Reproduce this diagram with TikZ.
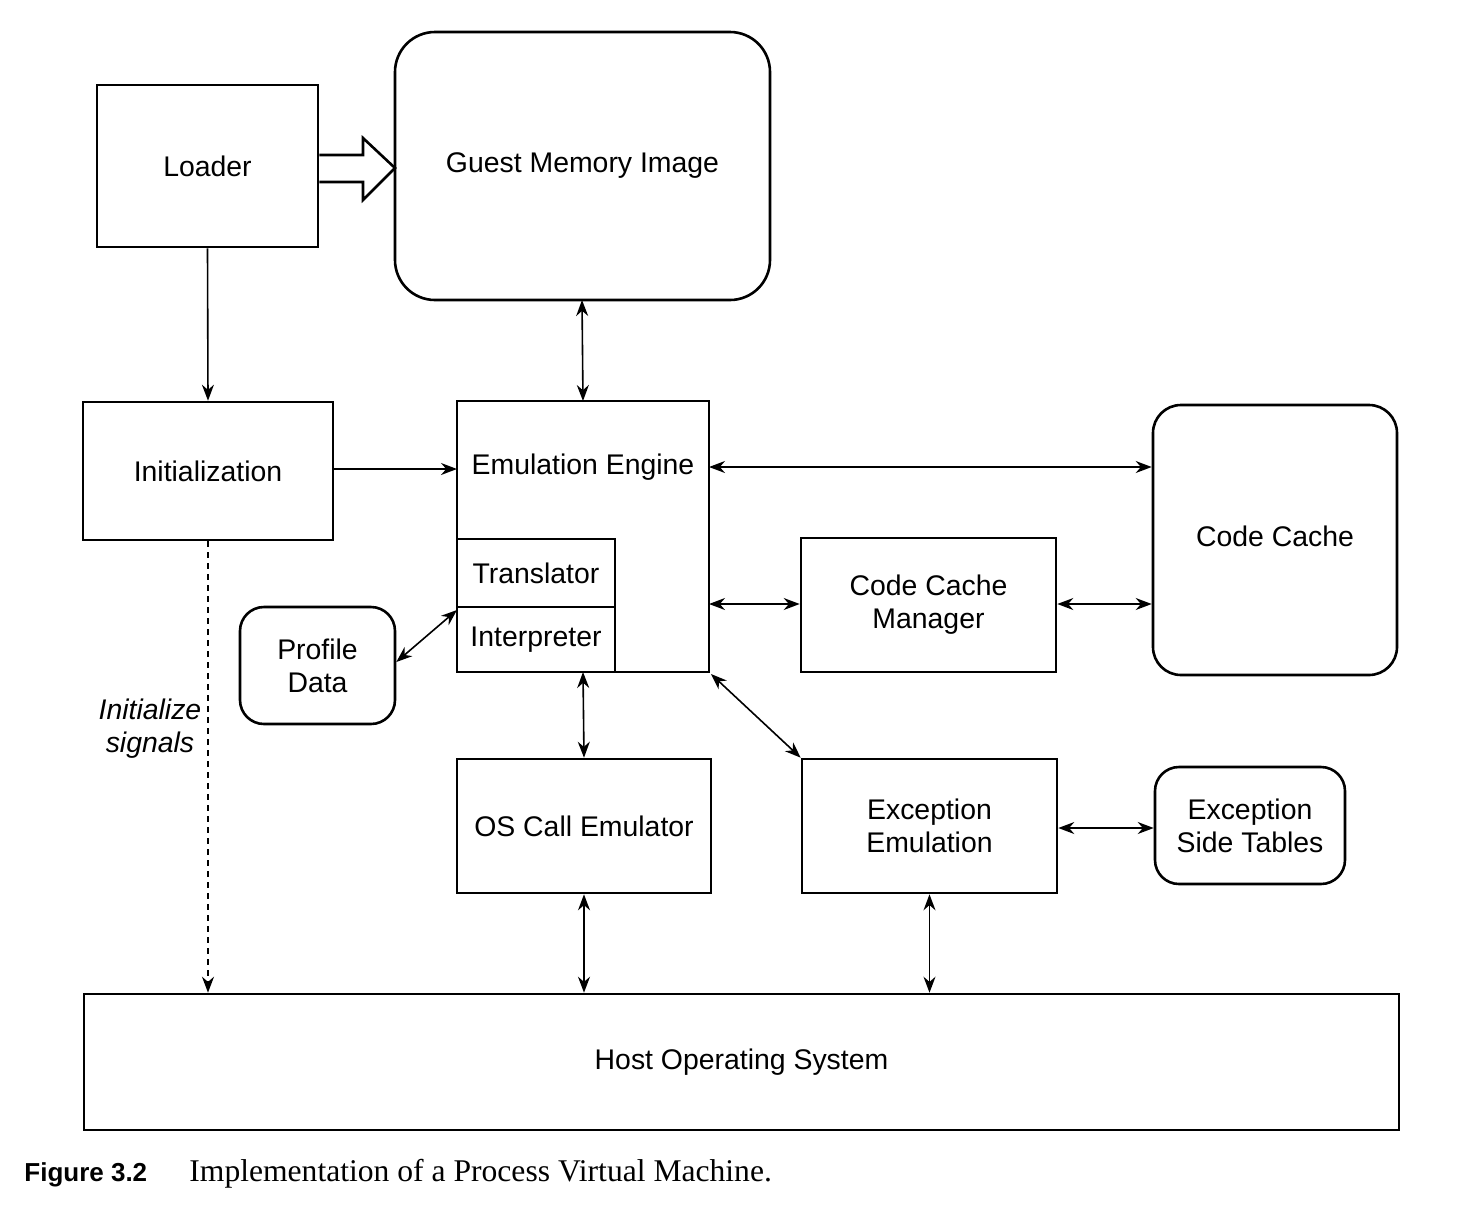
\documentclass[tikz,border=0pt]{standalone}
\usepackage{fontspec}
\setmainfont{Liberation Sans}
\newfontfamily\capserif{Liberation Serif}
\usetikzlibrary{arrows.meta}
\begin{document}
\begin{tikzpicture}[x=0.5pt,y=-0.5pt,
  lbl/.style={font=\fontsize{14.2}{16.5}\selectfont},
  box/.style={draw,line width=1.3pt,inner sep=0pt,lbl,align=center},
  rbox/.style={box,rounded corners=14pt},
  conn/.style={line width=0.8pt,{Stealth[length=8pt,width=6pt]}-{Stealth[length=8pt,width=6pt]}},
  oneway/.style={line width=0.8pt,-{Stealth[length=8pt,width=6pt]}}]
\useasboundingbox (0,0) rectangle (1458,1217);
% boxes
\node[box,minimum width=110.5pt,minimum height=81pt] (loader) at (207.5,166) {Loader};
\draw[line width=1.3pt,rounded corners=20pt] (395,32) rectangle (770,300);
\node[inner sep=0pt,lbl] (gmi) at (582.5,166) {Guest Memory Image};
\coordinate (gmiB) at (582,300);
\coordinate (gmiL) at (395,168);
\node[box,minimum width=125pt,minimum height=69pt] (init) at (208,471) {Initialization};
% emulation engine
\draw[line width=1.3pt] (457,401) rectangle (709,672);
\node[lbl,inner sep=0pt] (ee) at (583,467) {Emulation Engine};
\node[box,minimum width=79pt,minimum height=34pt] (trans) at (536,573) {Translator};
\node[box,minimum width=79pt,minimum height=32.5pt] (interp) at (536,639.5) {Interpreter};
\coordinate (eeT) at (583,401);
\coordinate (eeL) at (457,469);
\coordinate (eeR1) at (709,467);
\coordinate (eeR2) at (709,604);
\coordinate (eeB) at (583,672);
\coordinate (eeC) at (711,674);
\coordinate (intC) at (457,610);
\node[rbox,minimum width=122pt,minimum height=135pt] (cc) at (1275,540) {};
\node[lbl,inner sep=0pt] at (1275,536) {Code Cache};
\node[box,minimum width=127.5pt,minimum height=67pt] (ccm) at (928.5,605) {Code Cache\\Manager};
\node[rbox,minimum width=77.5pt,minimum height=58.5pt,rounded corners=12pt] (pd) at (317.5,665.5) {Profile\\Data};
\node[box,minimum width=127pt,minimum height=67pt] (os) at (584,826) {OS Call Emulator};
\node[box,minimum width=127.5pt,minimum height=67pt] (exc) at (929.5,826) {Exception\\Emulation};
\node[rbox,minimum width=95pt,minimum height=58.5pt,rounded corners=12pt] (est) at (1250,825.5) {Exception\\Side Tables};
\node[box,minimum width=657.5pt,minimum height=68pt] (host) at (741.5,1062) {Host Operating System};
% hollow arrow
\draw[line width=1.3pt,line join=miter] (loader.east|-0,155) -- (363,155) -- (363,138) -- (gmiL) -- (363,200) -- (363,182) -- (loader.east|-0,182);
% connectors
\draw[oneway] (loader.south) -- (init.north);
\draw[conn] (gmiB) -- (eeT);
\draw[oneway] (init.east|-eeL) -- (eeL);
\draw[conn] (eeR1) -- (cc.west|-eeR1);
\draw[conn] (eeR2) -- (ccm.west|-eeR2);
\draw[conn] (ccm.east|-eeR2) -- (cc.west|-eeR2);
\draw[conn] (intC) -- (pd.east|-0,662);
\draw[conn] (eeB) -- (os.north);
\draw[conn] (eeC) -- (exc.north west);
\draw[conn] (exc.east|-0,828) -- (est.west|-0,828);
\draw[conn] (os.south) -- (host.north-|os.south);
\draw[conn] (exc.south) -- (host.north-|exc.south);
\draw[oneway,dash pattern=on 3pt off 2.5pt] (init.south) -- (host.north-|init.south);
\node[lbl,font=\fontsize{14.2}{16.5}\selectfont\itshape,align=center,inner sep=0pt] (sig) at (150,729) {Initialize\\signals};
% caption
\node[anchor=base west,inner sep=0pt,font=\fontsize{13}{15}\selectfont\bfseries] (fig) at (24,1181) {Figure 3.2};
\node[anchor=base west,inner sep=0pt,font=\capserif\fontsize{15.8}{18}\selectfont] (cap) at (189,1181) {Implementation of a Process Virtual Machine.};
\end{tikzpicture}
\end{document}
